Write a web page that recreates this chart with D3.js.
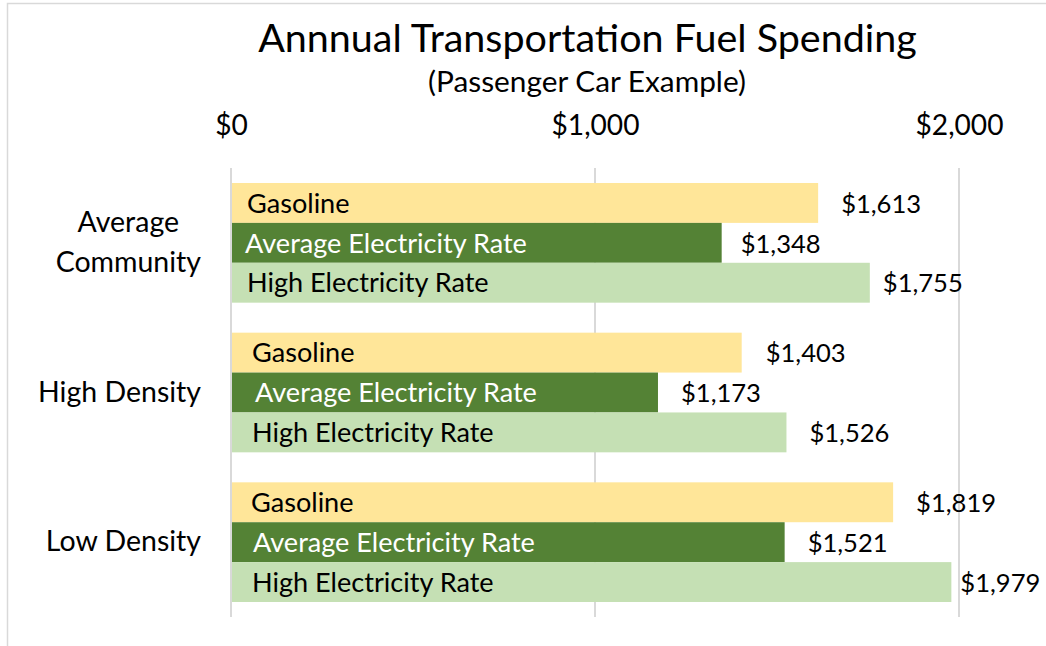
<!DOCTYPE html>
<html><head><meta charset="utf-8">
<script src="https://cdn.jsdelivr.net/npm/d3@7"></script>
<style>
body{margin:0;background:#fff;}
text{font-family:Lato,"Open Sans",sans-serif;fill:#000;}
</style>
</head><body>
<svg id="c" width="1046" height="646"></svg>
<script>
// ---------------- data ----------------
const title = "Annnual Transportation Fuel Spending";
const subtitle = "(Passenger Car Example)";
const categories = ["Average Community", "High Density", "Low Density"];
const categoryLines = [["Average", "Community"], ["High Density"], ["Low Density"]];
const seriesNames = ["Gasoline", "Average Electricity Rate", "High Electricity Rate"];
const gasoline = [1613, 1403, 1819];
const averageElectricity = [1348, 1173, 1521];
const highElectricity = [1755, 1526, 1979];
const tickValues = [0, 1000, 2000];
const tickLabels = ["$0", "$1,000", "$2,000"];

// ---------------- layout / style ----------------
const seriesColors = ["#FFE699", "#548235", "#C5E0B4"];
const innerTextColors = ["#000", "#fff", "#000"];
// manual label nudges (px), per category then series
const innerLabelDx = [[16, 14, 16], [21, 24, 21], [20, 22, 21]];
const valueLabelDx = [[23, 19, 13], [24, 23, 23], [23, 23, 9]];

const svg = d3.select("#c");
const W = 1046, H = 646;
const values = [gasoline, averageElectricity, highElectricity];

// chart border
svg.append("rect").attr("x", 7.5).attr("y", 3.5).attr("width", W + 20).attr("height", H + 20)
  .attr("fill", "#fff").attr("stroke", "#d9d9d9").attr("stroke-width", 1.5);

const x = d3.scaleLinear().domain([0, 2000]).range([231, 959]);
const y0 = d3.scaleBand().domain(categories).range([168, 617]);
const inner = 15;
const y1 = d3.scaleBand().domain(seriesNames).range([inner, y0.bandwidth() - inner]);

function fitSize(str, target, base) {
  const t = svg.append("text").attr("font-size", base).text(str);
  const w = t.node().getComputedTextLength();
  t.remove();
  return base * target / w;
}
const fsTitle = fitSize(title, 659, 40);
const fsSub = fitSize(subtitle, 318, 26);
const fsTick = fitSize("$2,000", 88, 28);
const fsVal = fitSize("$1,613", 80, 26);
const fsInner = fitSize("Average Electricity Rate", 282, 26);
const fsCat = fitSize("High Density", 163, 26);

// title
svg.append("text").attr("x", 587.5).attr("y", 52).attr("text-anchor", "middle")
  .attr("font-size", fsTitle).text(title);
svg.append("text").attr("x", 587).attr("y", 92).attr("text-anchor", "middle")
  .attr("font-size", fsSub).text(subtitle);

// axis (top) with gridlines
const axis = d3.axisTop(x).tickValues(tickValues).tickFormat((d, i) => tickLabels[i]).tickSize(0).tickPadding(0);
const gAxis = svg.append("g").attr("transform", "translate(0,135)").call(axis);
gAxis.select(".domain").remove();
gAxis.selectAll("text").attr("font-size", fsTick).attr("font-family", "Lato").attr("fill", "#000").attr("dy", 0);

svg.append("g").selectAll("line").data(tickValues).join("line")
  .attr("x1", d => x(d)).attr("x2", d => x(d))
  .attr("y1", 168).attr("y2", 617)
  .attr("stroke", "#d9d9d9").attr("stroke-width", 2);

// bars
const groups = svg.append("g").selectAll("g").data(categories).join("g")
  .attr("transform", d => `translate(0,${y0(d)})`);

groups.each(function (cat, ci) {
  const g = d3.select(this);
  const rows = seriesNames.map((s, si) => ({ s, si, v: values[si][ci] }));
  g.selectAll("rect").data(rows).join("rect")
    .attr("x", x(0) + 1).attr("y", d => y1(d.s))
    .attr("width", d => x(d.v) - x(0) - 1).attr("height", y1.bandwidth())
    .attr("fill", d => seriesColors[d.si]);
  g.selectAll("text.inner").data(rows).join("text").attr("class", "inner")
    .attr("x", d => x(0) + innerLabelDx[ci][d.si])
    .attr("y", d => y1(d.s) + y1.bandwidth() / 2).attr("dy", "0.36em")
    .attr("font-size", fsInner).style("fill", d => innerTextColors[d.si])
    .text(d => d.s);
  g.selectAll("text.val").data(rows).join("text").attr("class", "val")
    .attr("x", d => x(d.v) + valueLabelDx[ci][d.si])
    .attr("y", d => y1(d.s) + y1.bandwidth() / 2).attr("dy", "0.38em")
    .attr("font-size", fsVal)
    .text(d => d3.format("$,")(d.v));
});

// category labels
categories.forEach((c, ci) => {
  const lines = categoryLines[ci];
  const cy = y0(c) + y0.bandwidth() / 2;
  const t = svg.append("text").attr("font-size", fsCat).attr("text-anchor", "middle");
  lines.forEach((ln, li) => {
    t.append("tspan").attr("x", 0).attr("y", cy + 9 + (li - (lines.length - 1) / 2) * 40).text(ln);
  });
  const widths = [];
  t.selectAll("tspan").each(function () { widths.push(this.getComputedTextLength()); });
  const cx = 201 - d3.max(widths) / 2;
  t.selectAll("tspan").attr("x", cx);
});
</script>
</body></html>
